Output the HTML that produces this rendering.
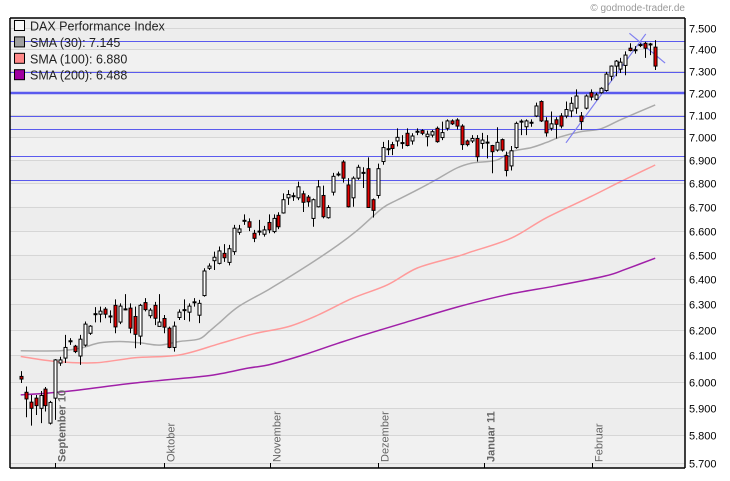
<!DOCTYPE html>
<html><head><meta charset="utf-8"><style>
html,body{margin:0;padding:0;background:#fff;width:730px;height:481px;overflow:hidden}
svg{display:block;font-family:"Liberation Sans",sans-serif}
</style></head><body>
<svg id="chart" width="730" height="481" viewBox="0 0 730 481" xmlns="http://www.w3.org/2000/svg">
<text x="685" y="11" text-anchor="end" font-size="10" fill="#999">© godmode-trader.de</text>
<g id="bg"></g><g id="grid"></g><g id="smas"></g><g id="hlines"></g><g id="candles"></g><g id="axes"></g><g id="legend"></g>
</svg>
<script>
const opens=[6020,5960,5923,5938,5900,5972,5845,5938,6071,6090,6153,6136,6098,6140,6186,6263,6261,6281,6254,6296,6230,6282,6285,6252,6175,6307,6255,6296,6213,6244,6206,6131,6248,6277,6269,6308,6257,6335,6445,6476,6465,6506,6469,6513,6593,6643,6637,6589,6598,6585,6634,6596,6664,6674,6738,6747,6738,6755,6741,6651,6700,6748,6654,6762,6836,6892,6793,6738,6822,6847,6863,6730,6748,6894,6946,6968,6984,6977,7018,6984,7023,7030,7003,7010,7040,6999,7040,7073,7077,7050,6984,6984,6995,6973,6979,6964,6944,6990,6920,6875,6955,7068,7047,7063,7095,7160,7073,7040,7078,7095,7095,7118,7130,7095,7130,7200,7170,7200,7210,7275,7322,7308,7325,7405,7394,7418,7428,7422,7410];
const highs=[6040,5982,5950,5950,5965,5980,5928,6086,6095,6180,6167,6141,6180,6232,6218,6289,6291,6289,6276,6320,6304,6341,6304,6291,6302,6325,6285,6310,6341,6258,6212,6232,6280,6320,6304,6325,6318,6445,6465,6513,6534,6544,6541,6624,6624,6668,6651,6603,6645,6620,6668,6668,6677,6757,6771,6760,6807,6768,6750,6735,6814,6790,6707,6845,6850,6900,6822,6830,6880,6869,6912,6735,6885,6980,6988,6980,7040,7010,7040,7018,7040,7036,7030,7033,7048,7070,7080,7080,7085,7058,6990,7010,7010,7020,7010,6967,7045,6995,6937,6962,7070,7080,7080,7080,7155,7165,7090,7115,7090,7108,7160,7180,7215,7113,7192,7215,7200,7225,7295,7325,7350,7360,7390,7428,7415,7428,7435,7430,7443];
const lows=[5995,5867,5836,5875,5845,5888,5840,5857,6060,6071,6141,6109,6064,6134,6180,6229,6229,6245,6226,6186,6222,6276,6186,6128,6141,6272,6245,6218,6213,6186,6128,6115,6238,6238,6232,6291,6226,6331,6438,6438,6461,6471,6457,6500,6583,6624,6598,6552,6580,6575,6589,6589,6606,6671,6708,6725,6728,6678,6700,6616,6697,6651,6650,6748,6830,6803,6697,6700,6815,6780,6697,6655,6735,6880,6922,6922,6960,6950,6960,6968,7010,7010,6960,7000,6976,6988,7030,7055,7035,6945,6960,6975,6894,6950,6908,6843,6937,6937,6830,6855,6950,7010,7010,7047,7090,7068,7003,7030,6995,7040,7085,7090,7105,7033,7124,7165,7165,7195,7205,7255,7275,7290,7280,7390,7380,7410,7360,7373,7304];
const closes=[6010,5935,5900,5910,5948,5910,5922,6083,6083,6131,6157,6115,6163,6222,6214,6260,6273,6261,6250,6211,6293,6279,6206,6182,6296,6279,6277,6245,6230,6210,6131,6214,6269,6279,6293,6310,6304,6434,6454,6490,6516,6488,6525,6610,6607,6639,6614,6568,6595,6603,6603,6651,6616,6730,6752,6743,6785,6719,6721,6730,6785,6658,6697,6830,6840,6822,6700,6822,6869,6843,6697,6685,6863,6955,6950,6951,7000,6975,6964,7006,7027,7018,7014,7025,6981,7021,7073,7060,7050,6968,6968,6995,6915,6988,6975,6937,6978,6944,6855,6941,7062,7072,7073,7067,7140,7073,7020,7060,7058,7050,7124,7152,7185,7070,7185,7180,7190,7220,7285,7322,7345,7340,7373,7394,7398,7422,7405,7425,7322];
const sma30Idx=[0,8,12,16,20,24,28,32,36,38,40,44,50,57,64,68,73,76,80,84,88,91,96,99,103,106,109,113,117,121,128];
const sma30=[6118,6118,6128,6149,6154,6149,6140,6154,6164,6193,6226,6292,6359,6445,6540,6603,6695,6729,6772,6818,6866,6887,6900,6938,6955,6977,7003,7025,7038,7078,7145];
const sma100Idx=[0,7,15,23,32,40,47,54,60,67,74,80,88,91,99,106,115,121,128];
const sma100=[6096,6077,6072,6091,6102,6145,6184,6212,6258,6325,6378,6446,6493,6513,6569,6653,6743,6807,6879];
const sma200Idx=[0,9,23,36,40,46,50,57,64,70,77,88,98,108,118,122,128];
const sma200=[5950,5963,5995,6019,6029,6052,6064,6102,6147,6184,6225,6289,6338,6374,6414,6441,6486];
const hLevels=[7439,7295,7198,7097,7038,6919,6815];
const hWidths=[1,1,2.5,1,1,1,1];
const yTicks=[5700,5800,5900,6000,6100,6200,6300,6400,6500,6600,6700,6800,6900,7000,7100,7200,7300,7400,7500];
const monthLabels=["September 10","Oktober","November","Dezember","Januar 11","Februar"];
const monthIdx=[6.9,28.9,50.3,72,93.4,115.2];
const monthBold=[true,false,false,false,true,false];
const legendLabels=["DAX Performance Index","SMA (30): 7.145","SMA (100): 6.880","SMA (200): 6.488"];
const legendColors=["#f8f8f8","#a0a0a0","#ff8888","#a000a0"];
const trendA=[[110,6976],[126.1,7472]];
const trendB=[[122.8,7475],[130,7336]];

const NS="http://www.w3.org/2000/svg";
const L=10,R=685,T=18,B=468;
function y(v){return 28+1585*Math.log(7500/v);}
function x(i){return 20.7+i*4.957;}
function mk(tag,attrs,parent){const e=document.createElementNS(NS,tag);for(const k in attrs)e.setAttribute(k,attrs[k]);parent.appendChild(e);return e;}
const bg=document.getElementById('bg'),grid=document.getElementById('grid'),smas=document.getElementById('smas'),hl=document.getElementById('hlines'),cg=document.getElementById('candles'),ax=document.getElementById('axes'),lg=document.getElementById('legend');

let r=mk('rect',{x:L,y:T,width:R-L,height:B-T,fill:'#ededed'},bg);


for(let k=0;k<yTicks.length-1;k++){
  const y1=y(yTicks[k+1]),y0=y(yTicks[k]);
  if(k%2===0){const b=mk('rect',{x:L,y:y1,width:R-L,height:y0-y1,fill:'#f1f1f1'},bg);
  
  }
}
yTicks.forEach(v=>{
  const yy=Math.round(y(v))+0.5;
  const g=mk('line',{x1:L,x2:R,y1:yy,y2:yy,stroke:'#d6d6d6','stroke-width':1},grid);
  
  
  const t=mk('text',{x:689,y:yy+4,'font-size':11,fill:'#000'},ax);
  t.textContent=(v/1000).toFixed(3);
  
  
});
function smooth(pts){
  let d='M'+pts[0][0].toFixed(1)+','+pts[0][1].toFixed(1);
  for(let k=0;k<pts.length-1;k++){
    const p0=pts[Math.max(k-1,0)],p1=pts[k],p2=pts[k+1],p3=pts[Math.min(k+2,pts.length-1)];
    const c1=[p1[0]+(p2[0]-p0[0])/6,p1[1]+(p2[1]-p0[1])/6],c2=[p2[0]-(p3[0]-p1[0])/6,p2[1]-(p3[1]-p1[1])/6];
    d+=' C'+c1[0].toFixed(1)+','+c1[1].toFixed(1)+' '+c2[0].toFixed(1)+','+c2[1].toFixed(1)+' '+p2[0].toFixed(1)+','+p2[1].toFixed(1);
  }
  return d;
}
function poly(idx,vals,color,name){
  const p=mk('path',{d:smooth(idx.map((i,k)=>[x(i),y(vals[k])])),fill:'none',stroke:color,'stroke-width':1.5},smas);
  
  
}
poly(sma30Idx,sma30,'#aaaaaa','sma-30-line');
poly(sma100Idx,sma100,'#ff9a9a','sma-100-line');
poly(sma200Idx,sma200,'#a020a8','sma-200-line');

legendLabels.forEach((s,k)=>{
  const yy=26+k*16.4;
  const sw=mk('rect',{x:14.5,y:yy-5.5,width:10,height:10,fill:legendColors[k],stroke:'#000','stroke-width':1},lg);
  
  
  const t=mk('text',{x:30,y:yy+4.5,'font-size':12.5,fill:'#222'},lg);
  t.textContent=s;
  
  
});

hLevels.forEach((v,k)=>{
  const yy=Math.round(y(v))+(hWidths[k]>2?0:0.5);
  const l=mk('line',{x1:L,x2:R,y1:yy,y2:yy,stroke:'#5a5aee','stroke-width':hWidths[k]},hl);
  
  
});
[trendA,trendB].forEach(tl=>{
  const l=mk('line',{x1:x(tl[0][0]),y1:y(tl[0][1]),x2:x(tl[1][0]),y2:y(tl[1][1]),stroke:'#8080f0','stroke-width':1.2},hl);
  
  
});

for(let i=0;i<opens.length;i++){
  const cx=Math.round(x(i))+0.5;
  const g=mk('g',{},cg);
  
  
  mk('line',{x1:cx,x2:cx,y1:y(highs[i]),y2:y(lows[i]),stroke:'#000','stroke-width':1},g);
  const up=closes[i]>=opens[i];
  const top=y(Math.max(opens[i],closes[i])),bot=y(Math.min(opens[i],closes[i]));
  mk('rect',{x:cx-1.5,y:top,width:3,height:Math.max(bot-top,1),fill:up?'#ffffff':'#e00000',stroke:'#000','stroke-width':1},g);
}

let a=mk('line',{x1:L,x2:L,y1:T,y2:B,stroke:'#000','stroke-width':1.5},ax);

a=mk('line',{x1:L,x2:R,y1:T,y2:T,stroke:'#000','stroke-width':1.5},ax);

a=mk('line',{x1:R,x2:R,y1:T,y2:B,stroke:'#000','stroke-width':1.5},ax);

a=mk('line',{x1:L,x2:R,y1:B,y2:B,stroke:'#000','stroke-width':1.5},ax);

monthLabels.forEach((s,k)=>{
  const tx=Math.round(x(monthIdx[k]))+0.5;
  const tk=mk('line',{x1:tx,x2:tx,y1:B-5,y2:B,stroke:'#000','stroke-width':1},ax);
  
  
  const t=mk('text',{x:0,y:0,'font-size':11,fill:'#666','font-weight':monthBold[k]?'bold':'normal',transform:'translate('+(tx+10)+',462) rotate(-90)'},ax);
  t.textContent=s;
  
  
});
</script>
</body></html>
